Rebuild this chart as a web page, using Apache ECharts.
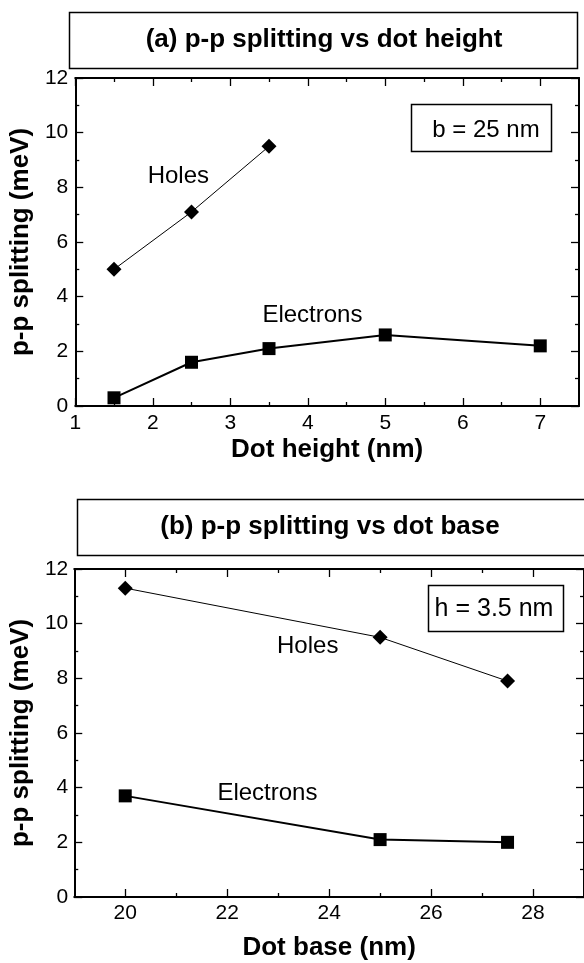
<!DOCTYPE html>
<html><head><meta charset="utf-8">
<script src="https://cdn.jsdelivr.net/npm/echarts@6/dist/echarts.min.js"></script>
<style>html,body{margin:0;padding:0;background:#fff}#c{width:584px;height:963px}</style>
</head><body><div id="c"></div>
<script>
// ---- data ----
const electronsHeightNm = [1.5, 2.5, 3.5, 5, 7];
const electronsVsHeight = [0.3, 1.6, 2.1, 2.6, 2.2];
const holesHeightNm = [1.5, 2.5, 3.5];
const holesVsHeight = [5.0, 7.1, 9.5];
const baseNm = [20, 25, 27.5];
const holesVsBase = [11.3, 9.5, 7.9];
const electronsVsBase = [3.7, 2.1, 2.0];
// ---- tick labels ----
const heightTicks = [1, 2, 3, 4, 5, 6, 7];
const heightMinorTicks = [1.5, 2.5, 3.5, 4.5, 5.5, 6.5];
const baseTicks = [20, 22, 24, 26, 28];
const baseMinorTicks = [21, 23, 25, 27];
const splitTicks = [0, 2, 4, 6, 8, 10, 12];
const splitMinorTicks = [1, 3, 5, 7, 9, 11];
// ---- texts ----
const titleA = '(a) p-p splitting vs dot height';
const titleB = '(b) p-p splitting vs dot base';
const xNameA = 'Dot height (nm)';
const xNameB = 'Dot base (nm)';
const yName = 'p-p splitting (meV)';
const boxA = 'b = 25 nm';
const boxB = 'h = 3.5 nm';

const FF = "'Liberation Sans', Arial, Helvetica, sans-serif";
const K = '#000';

function axesSet(dim, gridIndex, min, max, major, minor, name, nameGap, labelMargin) {
  const posMain = dim === 'x' ? 'bottom' : 'left';
  const posOpp = dim === 'x' ? 'top' : 'right';
  const base = {type: 'value', gridIndex, min, max, splitLine: {show: false}, scale: false};
  const mk = (pos, ticks, len, showLine, labels) => Object.assign({}, base, {
    position: pos,
    axisLine: {show: showLine, onZero: false, lineStyle: {color: K, width: 2}},
    axisTick: {show: true, inside: true, length: len, customValues: ticks, lineStyle: {color: K, width: 1.3}},
    axisLabel: labels ? {show: true, customValues: ticks, color: K, fontSize: 21, fontFamily: FF, margin: labelMargin} : {show: false},
  });
  const main = mk(posMain, major, 8, true, true);
  main.name = name;
  main.nameLocation = 'middle';
  main.nameGap = nameGap;
  main.nameTextStyle = {color: K, fontSize: 26, fontWeight: 'bold', fontFamily: FF};
  if (dim === 'y') main.nameRotate = 90;
  return [main, mk(posMain, minor, 4, false, false), mk(posOpp, major, 8, true, false), mk(posOpp, minor, 4, false, false)];
}

const xAxes = [].concat(
  axesSet('x', 0, 1, 7.5, heightTicks, heightMinorTicks, xNameA, 31, 7),
  axesSet('x', 1, 19, 29, baseTicks, baseMinorTicks, xNameB, 38, 6)
);
const yAxes = [].concat(
  axesSet('y', 0, 0, 12, splitTicks, splitMinorTicks, yName, 33, 7),
  axesSet('y', 1, 0, 12, splitTicks, splitMinorTicks, yName, 32, 6)
);

const zip = (a, b) => a.map((v, i) => [v, b[i]]);
function lineSeries(name, xi, yi, xs, ys, symbol, size, width) {
  return {
    name, type: 'line', xAxisIndex: xi, yAxisIndex: yi, data: zip(xs, ys),
    symbol, symbolSize: size, showAllSymbol: true, silent: true,
    lineStyle: {color: K, width}, itemStyle: {color: K, borderWidth: 0, opacity: 1},
    emphasis: {disabled: true}, z: 3
  };
}
function textSeries(xi, yi, items) {
  return {
    type: 'scatter', xAxisIndex: xi, yAxisIndex: yi, symbolSize: 0, silent: true,
    data: items,
    itemStyle: {opacity: 1, color: K},
    label: {show: true, position: 'inside', formatter: '{b}', color: K, opacity: 1, textBorderWidth: 0, fontSize: 24, fontFamily: FF},
    emphasis: {disabled: true},
    z: 4
  };
}

const series = [
  lineSeries('Holes', 0, 0, holesHeightNm, holesVsHeight, 'diamond', 15, 1),
  lineSeries('Electrons', 0, 0, electronsHeightNm, electronsVsHeight, 'rect', 13, 2),
  textSeries(0, 0, [{name: 'Holes', value: [2.33, 8.4]}, {name: 'Electrons', value: [4.06, 3.33]}]),
  lineSeries('Holes', 4, 4, baseNm, holesVsBase, 'diamond', 15, 1),
  lineSeries('Electrons', 4, 4, baseNm, electronsVsBase, 'rect', 13, 2),
  textSeries(4, 4, [{name: 'Holes', value: [23.58, 9.16]}, {name: 'Electrons', value: [22.79, 3.78]}]),
];

function boxWithText(x, y, w, h, text, cx, cy, size, bold, lw) {
  return [
    {type: 'rect', shape: {x, y, width: w, height: h}, style: {fill: 'none', stroke: K, lineWidth: lw}, silent: true},
    {type: 'text', x: cx, y: cy, style: {text, fill: K, font: (bold ? 'bold ' : '') + size + 'px ' + FF, textAlign: 'center', textVerticalAlign: 'middle'}, silent: true}
  ];
}

const graphic = [].concat(
  boxWithText(69.5, 12.5, 508, 56, titleA, 324, 40, 26, true, 1.5),
  boxWithText(77.5, 499.5, 520, 56, titleB, 330, 527, 26, true, 1.5),
  boxWithText(411.5, 104.5, 140, 47, boxA, 486, 130, 24, false, 1.5),
  boxWithText(428.5, 585.5, 135, 46, boxB, 494, 609, 25, false, 1.5)
);

const chart = echarts.init(document.getElementById('c'), null, {renderer: 'canvas'});
chart.setOption({
  animation: false,
  backgroundColor: '#fff',
  grid: [
    {left: 69, top: 78, width: 510, height: 328, containLabel: false},
    {left: 74, top: 569, width: 511, height: 328, containLabel: false}
  ],
  xAxis: xAxes,
  yAxis: yAxes,
  series,
  graphic
});
</script>
</body></html>
